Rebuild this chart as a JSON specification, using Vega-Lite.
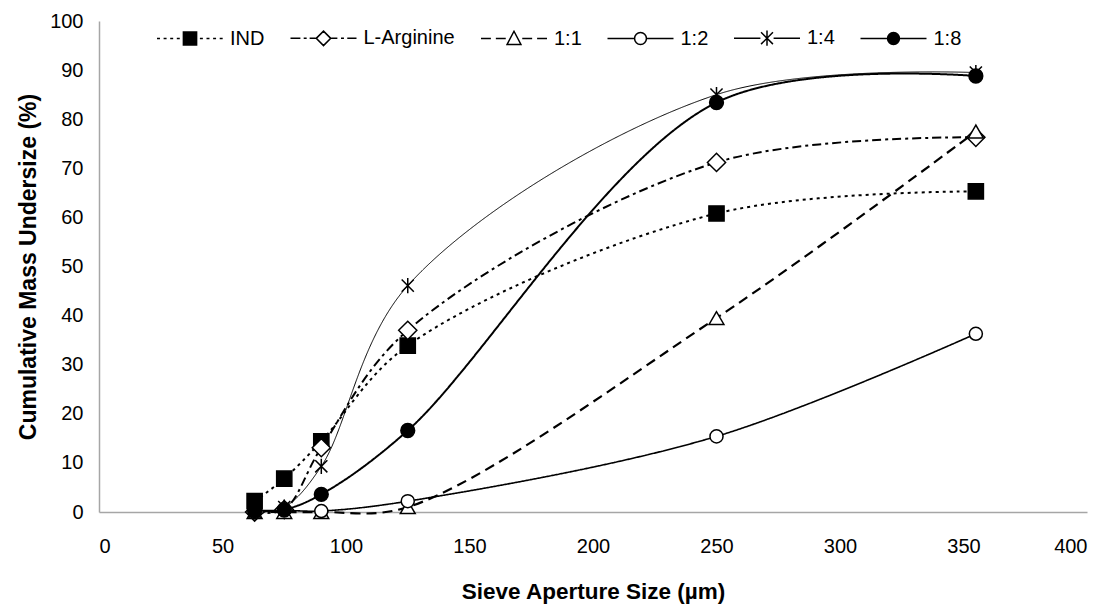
{
  "$schema": "https://vega.github.io/schema/vega-lite/v6.json",
  "autosize": {"type": "none"},
  "width": 988,
  "height": 491,
  "padding": {"left": 99, "top": 21, "right": 29, "bottom": 97},
  "background": "white",
  "config": {
    "font": "Liberation Sans",
    "view": {"stroke": null},
    "axis": {
      "grid": false,
      "ticks": false,
      "domainColor": "#a6a6a6",
      "domainWidth": 1.5,
      "labelFont": "Liberation Sans",
      "labelFontSize": 20,
      "labelColor": "black",
      "titleFont": "Liberation Sans",
      "titleFontWeight": "bold",
      "titleColor": "black"
    }
  },
  "data": {
    "values": [
      {"s": "IND", "x": 63, "y": 2.2},
      {"s": "IND", "x": 75, "y": 6.8},
      {"s": "IND", "x": 90, "y": 14.4},
      {"s": "IND", "x": 125, "y": 33.9},
      {"s": "IND", "x": 250, "y": 60.8},
      {"s": "IND", "x": 355, "y": 65.3},
      {"s": "L-Arginine", "x": 63, "y": 0},
      {"s": "L-Arginine", "x": 75, "y": 0.5},
      {"s": "L-Arginine", "x": 90, "y": 13.1},
      {"s": "L-Arginine", "x": 125, "y": 37.0},
      {"s": "L-Arginine", "x": 250, "y": 71.2},
      {"s": "L-Arginine", "x": 355, "y": 76.3},
      {"s": "1:1", "x": 63, "y": 0},
      {"s": "1:1", "x": 75, "y": 0},
      {"s": "1:1", "x": 90, "y": 0},
      {"s": "1:1", "x": 125, "y": 1.0},
      {"s": "1:1", "x": 250, "y": 39.5},
      {"s": "1:1", "x": 355, "y": 77.5},
      {"s": "1:2", "x": 63, "y": 0},
      {"s": "1:2", "x": 75, "y": 0.3},
      {"s": "1:2", "x": 90, "y": 0.2},
      {"s": "1:2", "x": 125, "y": 2.2},
      {"s": "1:2", "x": 250, "y": 15.4},
      {"s": "1:2", "x": 355, "y": 36.3},
      {"s": "1:4", "x": 63, "y": 0},
      {"s": "1:4", "x": 75, "y": 1.0},
      {"s": "1:4", "x": 90, "y": 9.3},
      {"s": "1:4", "x": 125, "y": 46.1},
      {"s": "1:4", "x": 250, "y": 85.0},
      {"s": "1:4", "x": 355, "y": 89.5},
      {"s": "1:8", "x": 63, "y": 0.3},
      {"s": "1:8", "x": 75, "y": 0.5},
      {"s": "1:8", "x": 90, "y": 3.6},
      {"s": "1:8", "x": 125, "y": 16.6},
      {"s": "1:8", "x": 250, "y": 83.4},
      {"s": "1:8", "x": 355, "y": 88.8}
    ]
  },
  "encoding": {
    "x": {
      "field": "x",
      "type": "quantitative",
      "scale": {"domain": [0, 400], "nice": false},
      "axis": {
        "values": [0, 50, 100, 150, 200, 250, 300, 350, 400],
        "title": "Sieve Aperture Size (µm)",
        "titleFontSize": 22.5,
        "labelPadding": 24,
        "titlePadding": 24
      }
    },
    "y": {
      "field": "y",
      "type": "quantitative",
      "scale": {"domain": [0, 100], "nice": false},
      "axis": {
        "values": [0, 10, 20, 30, 40, 50, 60, 70, 80, 90, 100],
        "title": "Cumulative Mass Undersize (%)",
        "titleFontSize": 23,
        "labelPadding": 16,
        "titlePadding": 9
      }
    }
  },
  "layer": [
    {
      "mark": {"type": "point", "filled": true, "opacity": 0, "stroke": "black"},
      "encoding": {
        "shape": {
          "field": "s",
          "type": "nominal",
          "scale": {
            "domain": ["IND", "L-Arginine", "1:1", "1:2", "1:4", "1:8"],
            "range": [
              "M-1,0h0.09M-0.8,0h0.09M-0.6,0h0.09M-0.4,0h0.09M-0.2,-0.2h0.4v0.4h-0.4zM0.3,0h0.09M0.5,0h0.09M0.7,0h0.09M0.9,0h0.09",
              "M-1,0h0.3M-0.6,0h0.09M-0.42,0h0.18M0,-0.22L0.22,0L0,0.22L-0.22,0ZM0.24,0h0.18M0.53,0h0.09M0.72,0h0.28",
              "M-1,0h0.3M-0.55,0h0.3M0,-0.22L0.21,0.18L-0.21,0.18ZM0.25,0h0.3M0.7,0h0.3",
              "M-1,0H-0.18M0.18,0H1M0.18,0A0.18,0.18,0,1,1,-0.18,0A0.18,0.18,0,1,1,0.18,0Z",
              "M-1,0H-0.2M0.2,0H1M-0.18,-0.18L0.18,0.18M-0.18,0.18L0.18,-0.18M0,-0.23V0.23",
              "M-1,0H-0.18M0.18,0H1M0.18,0A0.18,0.18,0,1,1,-0.18,0A0.18,0.18,0,1,1,0.18,0Z"
            ]
          },
          "legend": {
            "title": null,
            "orient": "none",
            "legendX": 57,
            "legendY": -17,
            "direction": "horizontal",
            "columns": 6,
            "symbolSize": 4356,
            "symbolOpacity": 1,
            "labelFont": "Liberation Sans",
            "labelFontSize": 20,
            "labelColor": "black",
            "labelOffset": 6,
            "columnPadding": 22.5,
            "encode": {
              "symbols": {
                "update": {
                  "stroke": {"value": "black"},
                  "strokeWidth": {"value": 1.5},
                  "opacity": {"value": 1},
                  "strokeOpacity": {"value": 1}
                }
              }
            }
          }
        },
        "fill": {
          "field": "s",
          "type": "nominal",
          "scale": {
            "domain": ["IND", "L-Arginine", "1:1", "1:2", "1:4", "1:8"],
            "range": ["black", "white", "white", "white", "white", "black"]
          },
          "legend": {
            "title": null,
            "orient": "none",
            "legendX": 57,
            "legendY": -17,
            "direction": "horizontal",
            "columns": 6,
            "symbolSize": 4356,
            "symbolOpacity": 1,
            "labelFont": "Liberation Sans",
            "labelFontSize": 20,
            "labelColor": "black",
            "labelOffset": 6,
            "columnPadding": 22.5,
            "encode": {
              "symbols": {
                "update": {
                  "stroke": {"value": "black"},
                  "strokeWidth": {"value": 1.5},
                  "opacity": {"value": 1},
                  "strokeOpacity": {"value": 1}
                }
              }
            }
          }
        }
      }
    },
    {
      "mark": {"type": "line", "interpolate": "catmull-rom", "color": "black"},
      "encoding": {
        "strokeDash": {
          "field": "s",
          "type": "nominal",
          "scale": {
            "domain": ["IND", "L-Arginine", "1:1", "1:2", "1:4", "1:8"],
            "range": [[3, 4], [9, 4, 3, 4], [10, 6], [1, 0], [1, 0], [1, 0]]
          },
          "legend": null
        },
        "strokeWidth": {
          "field": "s",
          "type": "nominal",
          "scale": {
            "type": "ordinal",
            "domain": ["IND", "L-Arginine", "1:1", "1:2", "1:4", "1:8"],
            "range": [2, 2, 2.2, 1.6, 1, 2]
          },
          "legend": null
        }
      }
    },
    {
      "mark": {"type": "point", "filled": true, "stroke": "black", "strokeWidth": 1.5, "opacity": 1},
      "encoding": {
        "shape": {
          "field": "s",
          "type": "nominal",
          "scale": {
            "domain": ["IND", "L-Arginine", "1:1", "1:2", "1:4", "1:8"],
            "range": ["square", "diamond", "triangle-up", "circle", "M-0.8,-0.8L0.8,0.8M-0.8,0.8L0.8,-0.8M0,-1V1", "circle"]
          },
          "legend": null
        },
        "fill": {
          "field": "s",
          "type": "nominal",
          "scale": {
            "domain": ["IND", "L-Arginine", "1:1", "1:2", "1:4", "1:8"],
            "range": ["black", "white", "white", "white", "white", "black"]
          },
          "legend": null
        },
        "size": {
          "field": "s",
          "type": "nominal",
          "scale": {
            "type": "ordinal",
            "domain": ["IND", "L-Arginine", "1:1", "1:2", "1:4", "1:8"],
            "range": [230, 330, 220, 170, 230, 190]
          },
          "legend": null
        }
      }
    }
  ],
  "resolve": {
    "scale": {"shape": "independent", "fill": "independent", "size": "independent"},
    "legend": {"shape": "independent", "fill": "independent"}
  }
}
